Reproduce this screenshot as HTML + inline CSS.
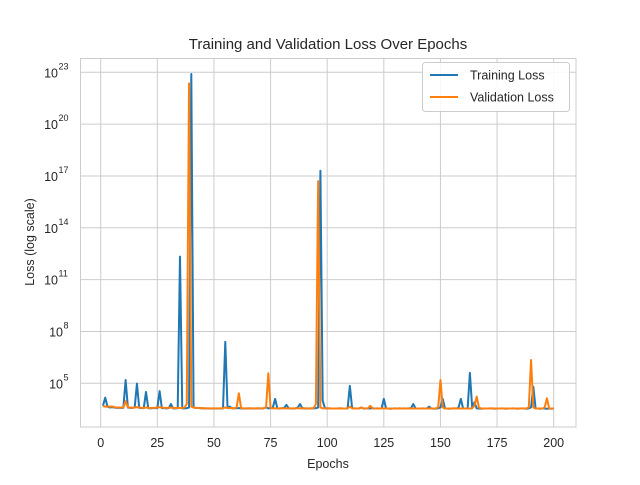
<!DOCTYPE html>
<html><head><meta charset="utf-8"><style>
body{margin:0;background:#fff;font-family:"Liberation Sans","DejaVu Sans",sans-serif}
svg text{font-family:"Liberation Sans","DejaVu Sans",sans-serif;fill:#262626}
</style></head><body>
<svg id="chart" width="640" height="480">
<rect width="640" height="480" fill="#fff"/>
<g id="grid"></g>
<g id="lines"></g>
<g id="ticks"></g>
<rect x="80.5" y="58.5" width="495.5" height="368.5" fill="none" stroke="#cccccc" stroke-width="1"/>
<text x="328" y="49" text-anchor="middle" font-size="15">Training and Validation Loss Over Epochs</text>
<text x="328" y="468" text-anchor="middle" font-size="12.5">Epochs</text>
<text transform="translate(34,242) rotate(-90)" text-anchor="middle" font-size="12.5">Loss (log scale)</text>
<g>
<rect x="422.5" y="62.5" width="147" height="49" rx="3" fill="#fff" fill-opacity="0.85" stroke="#cccccc"/>
<g><line x1="430" y1="75" x2="458" y2="75" stroke="#1f77b4" stroke-width="2"/><text x="470" y="79.5" font-size="12.5">Training Loss</text></g>
<g><line x1="430" y1="97" x2="458" y2="97" stroke="#ff7f0e" stroke-width="2"/><text x="470" y="101.5" font-size="12.5">Validation Loss</text></g>
</g>
</svg>
<script>
const xTicks=[0,25,50,75,100,125,150,175,200];
const yTickExps=[5,8,11,14,17,20,23];
const trainLog=[3.7,4.17,3.65,3.6,3.62,3.6,3.58,3.58,3.58,3.58,5.19,3.6,3.58,3.58,3.6,4.98,3.58,3.56,3.56,4.5,
3.56,3.55,3.56,3.56,3.56,4.55,3.56,3.56,3.55,3.56,3.8,3.55,3.55,3.56,12.33,3.55,3.55,3.56,3.6,22.9,
3.6,3.58,3.57,3.56,3.55,3.55,3.55,3.54,3.54,3.54,3.54,3.54,3.54,3.55,7.4,3.56,3.65,3.55,3.55,3.56,
3.56,3.55,3.54,3.54,3.55,3.55,3.54,3.54,3.55,3.55,3.54,3.55,3.6,3.55,3.56,3.6,4.1,3.55,3.54,3.56,
3.58,3.75,3.56,3.54,3.54,3.55,3.6,3.8,3.56,3.55,3.54,3.54,3.55,3.55,3.56,3.6,17.3,4.0,3.56,3.55,
3.55,3.54,3.54,3.54,3.55,3.55,3.54,3.54,3.55,4.85,3.56,3.55,3.54,3.54,3.6,3.54,3.55,3.54,3.55,3.56,
3.54,3.55,3.54,3.55,4.1,3.55,3.54,3.53,3.54,3.55,3.54,3.55,3.54,3.55,3.54,3.55,3.56,3.8,3.55,3.54,
3.54,3.55,3.54,3.54,3.65,3.54,3.53,3.54,3.55,3.6,4.1,3.55,3.54,3.53,3.54,3.55,3.54,3.6,4.1,3.55,
3.54,3.55,5.6,3.6,3.9,3.55,3.54,3.53,3.54,3.54,3.54,3.55,3.54,3.53,3.54,3.54,3.55,3.54,3.53,3.54,
3.54,3.55,3.54,3.53,3.54,3.55,3.54,3.53,3.55,3.6,4.8,3.55,3.54,3.53,3.54,3.54,3.53,3.54,3.53,3.54];
const valLog=[3.68,3.66,3.64,3.65,3.66,3.62,3.6,3.6,3.6,3.6,3.97,3.62,3.6,3.58,3.6,3.62,3.6,3.58,3.58,3.6,
3.58,3.57,3.58,3.58,3.6,3.62,3.6,3.58,3.58,3.58,3.6,3.57,3.57,3.58,3.57,3.58,3.6,3.8,22.36,3.65,
3.6,3.58,3.57,3.56,3.56,3.55,3.55,3.55,3.55,3.55,3.55,3.55,3.55,3.56,3.6,3.57,3.56,3.56,3.55,3.6,
4.42,3.56,3.55,3.55,3.55,3.55,3.55,3.55,3.55,3.55,3.55,3.56,3.6,5.58,3.56,3.55,3.55,3.55,3.55,3.55,
3.55,3.55,3.55,3.55,3.55,3.55,3.56,3.55,3.55,3.55,3.55,3.55,3.55,3.56,3.8,16.7,3.6,3.55,3.55,3.55,
3.55,3.54,3.54,3.54,3.54,3.55,3.54,3.54,3.55,3.65,3.55,3.54,3.54,3.54,3.6,3.55,3.54,3.55,3.7,3.55,
3.54,3.54,3.54,3.55,3.54,3.54,3.54,3.53,3.54,3.54,3.54,3.55,3.54,3.54,3.54,3.54,3.55,3.54,3.54,3.54,
3.54,3.54,3.54,3.55,3.54,3.54,3.54,3.55,3.6,5.19,3.6,3.54,3.54,3.54,3.54,3.55,3.54,3.54,3.54,3.54,
3.54,3.54,3.54,3.55,3.7,4.23,3.6,3.54,3.54,3.54,3.54,3.54,3.55,3.54,3.54,3.54,3.54,3.54,3.54,3.54,
3.54,3.54,3.54,3.54,3.54,3.54,3.54,3.55,3.6,6.35,3.6,3.54,3.54,3.54,3.54,3.6,4.13,3.55,3.54,3.54];
const NS="http://www.w3.org/2000/svg";
const xs=e=>100.7+e*2.265;
const ys=l=>383.3-(l-5)*17.28;
const grid=document.getElementById('grid'),ticks=document.getElementById('ticks'),lines=document.getElementById('lines');
xTicks.forEach(t=>{
 const g=document.createElementNS(NS,'line');
 
 
 g.setAttribute('x1',xs(t));g.setAttribute('x2',xs(t));g.setAttribute('y1',58.5);g.setAttribute('y2',427);
 g.setAttribute('stroke','#cccccc');grid.appendChild(g);
 const tx=document.createElementNS(NS,'text');
 
 
 tx.setAttribute('x',xs(t));tx.setAttribute('y',447);tx.setAttribute('text-anchor','middle');tx.setAttribute('font-size','12.5');
 tx.textContent=t;ticks.appendChild(tx);
});
yTickExps.forEach(t=>{
 const g=document.createElementNS(NS,'line');
 
 
 g.setAttribute('x1',80.5);g.setAttribute('x2',576);g.setAttribute('y1',ys(t));g.setAttribute('y2',ys(t));
 g.setAttribute('stroke','#cccccc');grid.appendChild(g);
 const tx=document.createElementNS(NS,'text');
 
 
 tx.setAttribute('x',t<10?63:58);tx.setAttribute('y',ys(t)+5);tx.setAttribute('text-anchor','end');tx.setAttribute('font-size','12.5');
 tx.textContent='10';ticks.appendChild(tx);
 const sp=document.createElementNS(NS,'text');
 
 
 sp.setAttribute('x',t<10?63.5:58.5);sp.setAttribute('y',ys(t)-3);sp.setAttribute('font-size','9');
 sp.textContent=t;ticks.appendChild(sp);
});
function drawSeries(arr,color,name){
 const p=document.createElementNS(NS,'polyline');
 
 
 p.setAttribute('points',arr.map((v,i)=>xs(i+1).toFixed(2)+','+ys(v).toFixed(2)).join(' '));
 p.setAttribute('fill','none');p.setAttribute('stroke',color);p.setAttribute('stroke-width','2');p.setAttribute('stroke-linejoin','round');
 lines.appendChild(p);
}
drawSeries(trainLog,'#1f77b4','training-loss-line');
drawSeries(valLog,'#ff7f0e','validation-loss-line');
</script>
</body></html>
